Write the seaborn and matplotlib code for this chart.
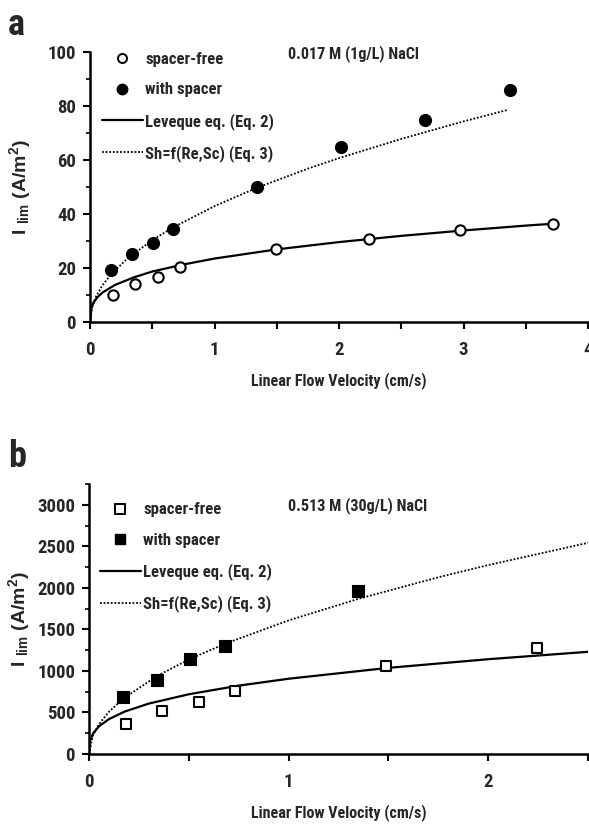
import numpy as np
import pandas as pd
import matplotlib
matplotlib.use("Agg")
import matplotlib.pyplot as plt
from matplotlib import font_manager
from matplotlib.font_manager import FontProperties
from matplotlib.lines import Line2D
from matplotlib.ticker import MultipleLocator
import seaborn as sns

# ---- panel a: 0.017 M NaCl ----
a_free_v = [0.185, 0.36, 0.55, 0.72, 1.49, 2.24, 2.97, 3.72]
a_free_i = [10.0, 14.0, 16.7, 20.5, 27.0, 30.7, 34.0, 36.3]
a_spacer_v = [0.17, 0.34, 0.51, 0.67, 1.34, 2.02, 2.69, 3.37]
a_spacer_i = [19.3, 25.2, 29.3, 34.4, 50.0, 64.8, 74.8, 86.0]
a_lev_v = [0.0, 0.01, 0.03, 0.06, 0.1, 0.2, 0.35, 0.5, 0.75, 1.0, 1.5, 2.0, 2.5, 3.0, 3.5, 3.72]
a_lev_i = [0.0, 5.1, 7.3, 9.2, 10.9, 13.7, 16.5, 18.7, 21.3, 23.5, 26.9, 29.6, 31.9, 33.9, 35.7, 36.4]
a_sh_v = [0.0, 0.02, 0.05, 0.1, 0.17, 0.3, 0.5, 0.67, 1.0, 1.34, 1.75, 2.0, 2.5, 3.0, 3.35]
a_sh_i = [0.0, 6.1, 9.6, 13.6, 17.7, 23.5, 30.3, 35.1, 42.9, 49.7, 56.8, 60.7, 67.8, 74.3, 78.5]

# ---- panel b: 0.513 M NaCl ----
b_free_v = [0.185, 0.366, 0.55, 0.73, 1.49, 2.245]
b_free_i = [361, 518, 627, 759, 1060, 1277]
b_spacer_v = [0.17, 0.34, 0.506, 0.68, 1.35]
b_spacer_i = [687, 892, 1145, 1301, 1964]
b_lev_v = [0.0, 0.005, 0.02, 0.05, 0.1, 0.18, 0.3, 0.5, 0.75, 1.0, 1.5, 2.0, 2.5]
b_lev_i = [0, 155, 246, 334, 420, 512, 607, 719, 823, 906, 1037, 1141, 1230]
b_sh_v = [0.0, 0.02, 0.05, 0.1, 0.17, 0.34, 0.5, 0.68, 1.0, 1.35, 1.75, 2.0, 2.5]
b_sh_i = [0, 227, 360, 508, 663, 938, 1137, 1326, 1608, 1868, 2127, 2274, 2542]

legend_labels = ["spacer-free", "with spacer", "Leveque eq. (Eq. 2)", "Sh=f(Re,Sc) (Eq. 3)"]
x_label = "Linear Flow Velocity (cm/s)"
y_label = r"I $_{\mathrm{lim}}$ (A/m$^{2}$)"

sns.set_theme(style="ticks")

# prefer a narrow sans face when one is installed
installed = {f.name for f in font_manager.fontManager.ttflist}
narrow = None
for cand in ["Liberation Sans Narrow", "Arial Narrow", "Roboto Condensed",
             "Open Sans Condensed", "Noto Sans Condensed", "DejaVu Sans Condensed"]:
    if cand in installed:
        narrow = cand
        break
BASE = narrow if narrow else "Liberation Sans"
FONT = [BASE, "DejaVu Sans"]
YFONT = ["Liberation Sans", "DejaVu Sans"]
plt.rcParams["font.family"] = FONT
plt.rcParams["font.weight"] = "bold"
plt.rcParams["mathtext.fontset"] = "custom"
plt.rcParams["mathtext.rm"] = "Liberation Sans:bold"
plt.rcParams["mathtext.it"] = "Liberation Sans:bold"
plt.rcParams["mathtext.bf"] = "Liberation Sans:bold"
plt.rcParams["mathtext.default"] = "rm"

fig = plt.figure(figsize=(5.89, 8.33), dpi=100)
W, H = 589.0, 833.0
renderer = fig.canvas.get_renderer()


def fit_size(s, width_px, cap=None, ismath=False, family=None):
    """Font size (pt) giving the requested rendered width in pixels."""
    prop = FontProperties(family=family or FONT, weight="bold", size=10)
    w, _, _ = renderer.get_text_width_height_descent(s, prop, ismath=ismath)
    size = 10.0 * width_px / w
    if cap is not None:
        size = min(size, cap)
    return size


TICK_FS = fit_size("3000", 38, cap=14)
LEG_FS = fit_size("Leveque eq. (Eq. 2)", 129, cap=12)
NOTE_FS = fit_size("0.017 M (1g/L) NaCl", 132, cap=12)
XLAB_FS = fit_size(x_label, 175, cap=12)
YLAB_FS = fit_size(y_label, 110, cap=14, ismath=True, family=YFONT)
TAG_FS = fit_size("a", 17, cap=26)


def panel(rect, free_v, free_i, sp_v, sp_i, lev_v, lev_i, sh_v, sh_i,
          marker, xmax, ymax, ymajor, yminor, note, note_xy, leg_anchor):
    ax = fig.add_axes(rect)
    sns.lineplot(x=lev_v, y=lev_i, ax=ax, color="black", lw=1.6, sort=False)
    sns.lineplot(x=sh_v, y=sh_i, ax=ax, color="black", lw=1.3,
                 linestyle=(0, (1, 1)), sort=False)
    sns.scatterplot(x=free_v, y=free_i, ax=ax, marker=marker, s=55,
                    facecolor="white", edgecolor="black", linewidth=1.5, zorder=5)
    sns.scatterplot(x=sp_v, y=sp_i, ax=ax, marker=marker, s=75,
                    color="black", edgecolor="black", linewidth=0.8, zorder=5)
    ax.set_xlim(0, xmax)
    ax.set_ylim(0, ymax)
    ax.xaxis.set_major_locator(MultipleLocator(1))
    ax.xaxis.set_minor_locator(MultipleLocator(0.5))
    ax.yaxis.set_major_locator(MultipleLocator(ymajor))
    ax.yaxis.set_minor_locator(MultipleLocator(yminor))
    ax.tick_params(axis="both", which="major", direction="out", length=5,
                   width=1.5, color="black", labelsize=TICK_FS)
    ax.tick_params(axis="x", which="major", pad=9)
    ax.tick_params(axis="y", which="major", pad=5)
    ax.tick_params(axis="x", which="minor", direction="out", length=5,
                   width=1.5, color="black")
    ax.tick_params(axis="y", which="minor", direction="out", length=3,
                   width=1.2, color="black")
    for lab in ax.get_xticklabels() + ax.get_yticklabels():
        lab.set_fontweight("bold")
    for side in ("top", "right"):
        ax.spines[side].set_visible(False)
    for side in ("left", "bottom"):
        ax.spines[side].set_linewidth(1.8)
        ax.spines[side].set_color("black")
    ax.set_xlabel(x_label, fontsize=XLAB_FS, fontweight="bold", labelpad=9)
    ax.set_ylabel(y_label, fontsize=YLAB_FS, fontweight="bold", family=YFONT)
    ax.yaxis.set_label_coords(-(90 - 33) / 498, 0.5)
    ax.text(note_xy[0], note_xy[1], note, transform=ax.transAxes,
            fontsize=NOTE_FS, fontweight="bold", va="center", ha="left")
    handles = [
        Line2D([], [], marker=marker, ls="none", mfc="white", mec="black",
               mew=1.4, ms=6.5),
        Line2D([], [], marker=marker, ls="none", mfc="black", mec="black",
               ms=7.5),
        Line2D([], [], color="black", lw=1.6),
        Line2D([], [], color="black", lw=1.3, linestyle=(0, (1, 1))),
    ]
    em = LEG_FS * 100 / 72
    ax.legend(handles, legend_labels, loc="upper left",
              bbox_to_anchor=leg_anchor, frameon=False,
              prop={"family": FONT, "weight": "bold", "size": LEG_FS},
              handlelength=41 / em, handletextpad=0.15,
              labelspacing=(32 - em) / em,
              borderpad=0, borderaxespad=0)
    return ax


ax_a = panel([90 / W, 1 - 322 / H, 498 / W, 270 / H],
             a_free_v, a_free_i, a_spacer_v, a_spacer_i,
             a_lev_v, a_lev_i, a_sh_v, a_sh_i,
             "o", 4, 100, 20, 10, "0.017 M (1g/L) NaCl", (0.398, 0.996),
             (0.024, 1.0))
ax_b = panel([89 / W, 1 - 754 / H, 499 / W, 270 / H],
             b_free_v, b_free_i, b_spacer_v, b_spacer_i,
             b_lev_v, b_lev_i, b_sh_v, b_sh_i,
             "s", 2.5, 3250, 500, 250, "0.513 M (30g/L) NaCl", (0.399, 0.922),
             (0.022, 0.932))

fig.text(8 / W, 1 - 25 / H, "a", fontsize=TAG_FS, fontweight="bold",
         va="center", ha="left")
fig.text(8 / W, 1 - 457 / H, "b", fontsize=TAG_FS, fontweight="bold",
         va="center", ha="left")

fig.savefig("out.png", dpi=100)
